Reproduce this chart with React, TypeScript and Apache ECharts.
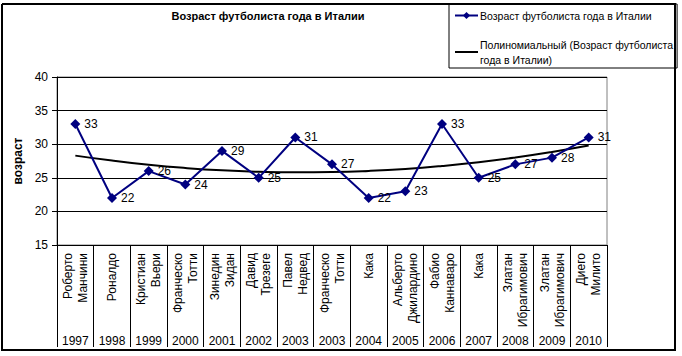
import React, { useEffect, useRef } from "react";
import * as echarts from "echarts";

const players = [
  "Роберто\nМанчини", "Роналдо", "Кристиан\nВьери", "Франческо\nТотти", "Зинедин\nЗидан",
  "Давид\nТрезеге", "Павел\nНедвед", "Франческо\nТотти", "Кака", "Альберто\nДжилардино",
  "Фабио\nКаннаваро", "Кака", "Златан\nИбрагимович", "Златан\nИбрагимович", "Диего\nМилито",
];
const years = ["1997", "1998", "1999", "2000", "2001", "2002", "2003", "2003", "2004", "2005", "2006", "2007", "2008", "2009", "2010"];
const ages = [33, 22, 26, 24, 29, 25, 31, 27, 22, 23, 33, 25, 27, 28, 31];
const trend = [28.3, 27.56, 26.94, 26.46, 26.11, 25.9, 25.81, 25.85, 26.02, 26.32, 26.76, 27.32, 28.02, 28.85, 29.8];
const yTicks = { min: 15, max: 40, interval: 5 };

const titleText = "Возраст футболиста года в Италии";
const seriesName = "Возраст футболиста года в Италии";
const trendName = "Полиномиальный (Возраст футболиста года в Италии)";
const trendLegendText = "Полиномиальный (Возраст футболиста\nгода в Италии)";
const yName = "возраст";

const FONT = "Arial, 'Liberation Sans', sans-serif";

export default function App() {
  const ref = useRef<HTMLDivElement>(null);
  useEffect(() => {
    const chart = echarts.init(ref.current!, null, { renderer: "svg" });
    chart.setOption({
      animation: false,
      backgroundColor: "#fff",
      textStyle: { fontFamily: FONT },
      title: {
        text: titleText,
        left: 268,
        textAlign: "center",
        top: 10,
        padding: 0,
        textStyle: { fontSize: 11, fontWeight: "bold", color: "#000", fontFamily: FONT },
      },
      legend: {
        orient: "vertical",
        left: 449,
        top: 4,
        width: 240,
        padding: [4, 4, 1, 5],
        itemGap: 14,
        itemWidth: 23,
        itemHeight: 9,
        borderColor: "#000",
        borderWidth: 1,
        data: [
          { name: seriesName },
          { name: trendName, icon: "path://M0,0 H23 V2 H0 Z" },
        ],
        formatter: (n: string) => (n === trendName ? trendLegendText : n),
        textStyle: { fontSize: 10.5, color: "#000", fontFamily: FONT, lineHeight: 15, padding: [0, 0, 0, -3] },
      },
      graphic: [
        {
          type: "polyline",
          shape: { points: [[2, 4], [675, 4], [675, 350], [2, 350], [2, 4]] },
          style: { fill: "none", stroke: "#000", lineWidth: 2 },
          silent: true,
          z: 100,
        },
      ],
      grid: {
        left: 57,
        top: 77,
        width: 550,
        height: 168,
        show: true,
        borderColor: "#808080",
        borderWidth: 1,
        backgroundColor: "transparent",
      },
      xAxis: [
        {
          type: "category",
          data: players,
          boundaryGap: true,
          axisLine: { lineStyle: { color: "#000", width: 1 } },
          axisTick: { show: true, length: 102, lineStyle: { color: "#000", width: 1 } },
          axisLabel: {
            interval: 0,
            rotate: 90,
            margin: 8,
            fontSize: 12,
            lineHeight: 15,
            color: "#000",
            fontFamily: FONT,
          },
        },
        {
          type: "category",
          data: years,
          position: "bottom",
          boundaryGap: true,
          axisLine: { show: false },
          axisTick: { show: false },
          axisLabel: { interval: 0, margin: 90, fontSize: 12, color: "#000", fontFamily: FONT },
        },
      ],
      yAxis: {
        type: "value",
        min: yTicks.min,
        max: yTicks.max,
        interval: yTicks.interval,
        name: yName,
        nameLocation: "middle",
        nameGap: 29,
        nameTextStyle: { fontSize: 12, fontWeight: "bold", color: "#000", fontFamily: FONT },
        axisLine: { show: true, lineStyle: { color: "#000", width: 1 } },
        axisTick: { show: true, length: 5, lineStyle: { color: "#000" } },
        axisLabel: { fontSize: 12, color: "#000", margin: 9, fontFamily: FONT },
        splitLine: { show: true, lineStyle: { color: "#000", width: 1 } },
      },
      series: [
        {
          name: trendName,
          type: "line",
          data: trend,
          smooth: true,
          symbol: "none",
          lineStyle: { color: "#000", width: 2 },
          itemStyle: { color: "#000" },
          z: 2,
        },
        {
          name: seriesName,
          type: "line",
          data: ages,
          symbol: "diamond",
          symbolSize: 10,
          lineStyle: { color: "#000080", width: 2 },
          itemStyle: { color: "#000080" },
          label: { show: true, position: "right", distance: 4, fontSize: 12, color: "#000", fontFamily: FONT },
          z: 3,
        },
      ],
    });
    return () => chart.dispose();
  }, []);
  return (
    <div
      ref={ref}
      style={{ position: "absolute", left: 0, top: 0, width: 682, height: 356 }}
    />
  );
}
